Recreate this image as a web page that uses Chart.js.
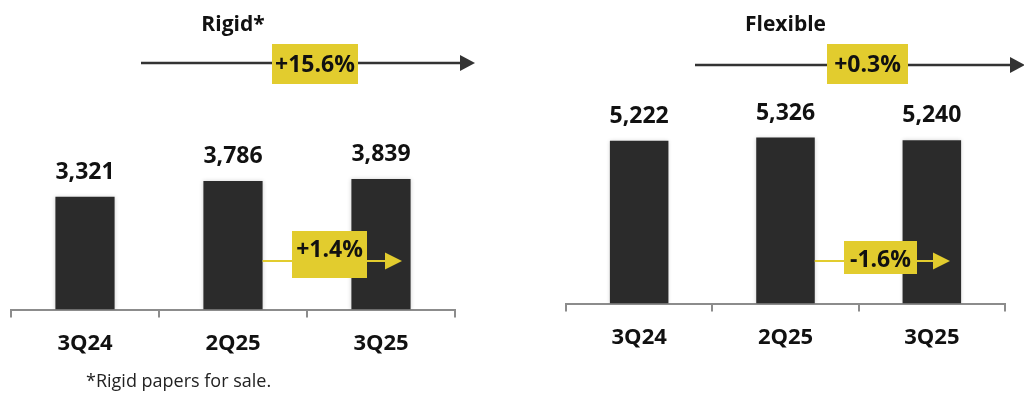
<!DOCTYPE html>
<html>
<head>
<meta charset="utf-8">
<script src="https://cdn.jsdelivr.net/npm/chart.js@4.4.1/dist/chart.umd.min.js"></script>
<style>
  html, body { margin: 0; padding: 0; background: #fff; }
  #wrap { position: relative; width: 1024px; height: 394px; overflow: hidden; }
  .panel { position: absolute; top: 0; width: 512px; height: 394px; }
</style>
</head>
<body>
<div id="wrap">
  <div class="panel" style="left:0"><canvas id="rigidChart" width="512" height="394"></canvas></div>
  <div class="panel" style="left:512px"><canvas id="flexChart" width="512" height="394"></canvas></div>
</div>
<script>
const categories = ['3Q24', '2Q25', '3Q25'];
const rigidValues = [3321, 3786, 3839];
const flexibleValues = [5222, 5326, 5240];
// variacion anual (3Q24->3Q25) y trimestral (2Q25->3Q25)
const rigidChanges = ['+15.6%', '+1.4%'];
const flexibleChanges = ['+0.3%', '-1.6%'];

const FONT = "'Open Sans', 'Noto Sans', sans-serif";
const YELLOW = '#e2cc2e';
const BAR = '#2b2b2b';
const AXIS = '#8c8c8c';

Chart.defaults.font.family = FONT;
Chart.defaults.color = '#111';
Chart.defaults.animation = false;

// sombra suave alrededor de las barras
const shadowPlugin = {
    id: 'barShadow',
    beforeDatasetsDraw(chart) {
        const ctx = chart.ctx;
        ctx.save();
        ctx.shadowColor = 'rgba(0,0,0,0.18)';
        ctx.shadowBlur = 4;
    },
    afterDatasetsDraw(chart) {
        chart.ctx.restore();
    }
};

// valores encima de cada barra
const valueLabels = {
    id: 'valueLabels',
    afterDatasetsDraw(chart) {
        const ctx = chart.ctx;
        const meta = chart.getDatasetMeta(0);
        const values = chart.data.datasets[0].data;
        ctx.save();
        ctx.font = 'bold 23px ' + FONT;
        ctx.fillStyle = '#111';
        ctx.textAlign = 'center';
        ctx.textBaseline = 'alphabetic';
        meta.data.forEach((bar, i) => {
            ctx.fillText(values[i].toLocaleString('en-US'), bar.x, bar.y - 18);
        });
        ctx.restore();
    }
};

function drawArrow(ctx, x1, x2, y, color, lw, headW, headH) {
    ctx.strokeStyle = color;
    ctx.fillStyle = color;
    ctx.lineWidth = lw;
    ctx.beginPath();
    ctx.moveTo(x1, y);
    ctx.lineTo(x2 - headW + 1, y);
    ctx.stroke();
    ctx.beginPath();
    ctx.moveTo(x2, y);
    ctx.lineTo(x2 - headW, y - headH / 2);
    ctx.lineTo(x2 - headW, y + headH / 2);
    ctx.closePath();
    ctx.fill();
}

function drawBox(ctx, b, text) {
    ctx.fillStyle = YELLOW;
    ctx.fillRect(b.x, b.y, b.w, b.h);
    ctx.fillStyle = '#111';
    ctx.font = 'bold 23px ' + FONT;
    ctx.textAlign = 'center';
    ctx.textBaseline = 'alphabetic';
    ctx.fillText(text, b.x + b.w / 2, b.base);
}

// flechas de variacion
const changeArrows = {
    id: 'changeArrows',
    afterDraw(chart, args, opts) {
        const ctx = chart.ctx;
        const meta = chart.getDatasetMeta(0);
        const b1 = meta.data[1];
        ctx.save();
        drawArrow(ctx, opts.top.x1, opts.top.x2, opts.top.y, '#333', 2.5, 15, 16);
        drawBox(ctx, opts.top.box, opts.texts[0]);
        drawArrow(ctx, b1.x + b1.width / 2, opts.small.x2, opts.small.y, YELLOW, 2, 17, 17);
        drawBox(ctx, opts.small.box, opts.texts[1]);
        if (opts.note) {
            ctx.font = '18px ' + FONT;
            ctx.fillStyle = '#222';
            ctx.textAlign = 'left';
            ctx.textBaseline = 'alphabetic';
            ctx.fillText(opts.note, 86, 387);
        }
        ctx.restore();
    }
};

function makeChart(id, title, values, max, padding, decor) {
    return new Chart(document.getElementById(id), {
        type: 'bar',
        data: {
            labels: categories,
            datasets: [{
                data: values,
                backgroundColor: BAR,
                barPercentage: 0.4,
                categoryPercentage: 1.0
            }]
        },
        options: {
            responsive: false,
            layout: { padding: padding },
            plugins: {
                legend: { display: false },
                tooltip: { enabled: false },
                title: {
                    display: true,
                    text: title,
                    fullSize: false,
                    color: '#111',
                    font: { size: 21, weight: 'bold', lineHeight: 1.2 },
                    padding: { top: 12, bottom: 64 }
                },
                changeArrows: decor
            },
            scales: {
                x: {
                    grid: {
                        display: true,
                        drawOnChartArea: false,
                        drawTicks: true,
                        tickLength: 8,
                        color: AXIS,
                        lineWidth: 2
                    },
                    border: { display: true, color: AXIS, width: 2 },
                    ticks: {
                        color: '#111',
                        padding: 13,
                        font: { size: 22, weight: 'bold', lineHeight: 1.2 }
                    }
                },
                y: { display: false, min: 0, max: max }
            }
        },
        plugins: [shadowPlugin, valueLabels, changeArrows]
    });
}

window.onload = () => {
    makeChart('rigidChart', 'Rigid*', rigidValues, 6130,
        { left: 11, right: 57, top: 0, bottom: 24 },
        {
            texts: rigidChanges,
            top: { x1: 141, x2: 475, y: 63, box: { x: 272, y: 44, w: 86, h: 40, base: 72 } },
            small: { x2: 402, y: 261, box: { x: 292, y: 231, w: 75, h: 47, base: 257 } },
            note: '*Rigid papers for sale.'
        });
    makeChart('flexChart', 'Flexible', flexibleValues, 6490,
        { left: 54, right: 19, top: 0, bottom: 30 },
        {
            texts: flexibleChanges,
            top: { x1: 183, x2: 513, y: 65, box: { x: 315, y: 44, w: 81, h: 40, base: 72 } },
            small: { x2: 438, y: 261, box: { x: 332, y: 241, w: 73, h: 33, base: 267 } }
        });
};
</script>
</body>
</html>
